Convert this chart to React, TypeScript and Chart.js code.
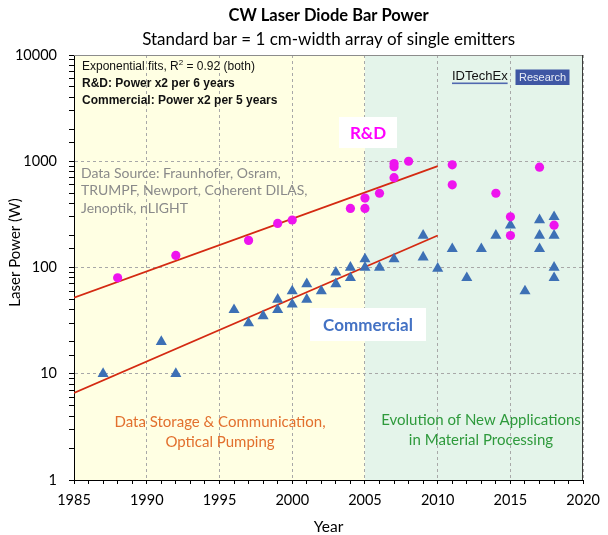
import React, { useEffect, useRef } from 'react';
import { Chart, registerables } from 'chart.js';

Chart.register(...registerables);

// ---- data ----
const rdYears = [1988, 1992, 1997, 1999, 2000, 2004, 2005, 2005, 2006, 2007, 2007, 2007, 2008, 2011, 2011, 2014, 2015, 2015, 2017, 2018];
const rdPower = [80, 130, 180, 260, 280, 360, 450, 360, 500, 700, 890, 950, 1000, 925, 600, 500, 300, 200, 880, 250];

const comYears = [1987, 1991, 1992, 1996, 1997, 1998, 1999, 1999, 2000, 2000, 2001, 2001, 2002, 2003, 2003, 2004, 2004, 2005, 2005, 2006, 2007, 2009, 2009, 2010, 2011, 2012, 2013, 2014, 2015, 2016, 2017, 2017, 2017, 2018, 2018, 2018, 2018];
const comPower = [10, 20, 10, 40, 30, 35, 50, 40, 60, 45, 70, 50, 60, 90, 70, 100, 80, 120, 100, 100, 120, 200, 125, 98, 150, 80, 150, 200, 250, 60, 280, 200, 150, 300, 200, 100, 80];

const rdFitYears = [1985, 2010];
const rdFitPower = [52, 900];
const comFitYears = [1985, 2010];
const comFitPower = [6.6, 200];

const xTickLabels = ['1985', '1990', '1995', '2000', '2005', '2010', '2015', '2020'];
const yTickLabels = ['1', '10', '100', '1000', '10000'];

const eraBounds = [1985, 2005, 2020];
const eraColors = ['#FFFFE3', '#E4F4EA'];

const titleText = 'CW Laser Diode Bar Power';
const subtitleText = 'Standard bar = 1 cm-width array of single emitters';
const yTitleText = 'Laser Power (W)';
const xTitleText = 'Year';
const fitLines = ['R&D: Power x2 per 6 years', 'Commercial: Power x2 per 5 years'];
const sourceLines = ['Data Source: Fraunhofer, Osram,', 'TRUMPF, Newport, Coherent DILAS,', 'Jenoptik, nLIGHT'];
const eraLeftLines = ['Data Storage & Communication,', 'Optical Pumping'];
const eraRightLines = ['Evolution of New Applications', 'in Material Processing'];

const CAL = 'Lato, "Open Sans", sans-serif';
const ARIAL = '"Liberation Sans", Arial, sans-serif';
const GRID = '#A8A8A8';

const isMajorY = (v: number) => yTickLabels.some((l) => Math.abs(Number(l) - v) < 1e-6 * Number(l));
const isMajorX = (v: number) => xTickLabels.includes(String(Math.round(v))) && Math.abs(v - Math.round(v)) < 1e-6;

const eraPlugin = {
  id: 'eras',
  beforeDraw(chart: any) {
    const { ctx, chartArea, scales } = chart;
    const x = scales.x;
    ctx.save();
    for (let i = 0; i < eraColors.length; i++) {
      const a = x.getPixelForValue(eraBounds[i]);
      const b = x.getPixelForValue(eraBounds[i + 1]);
      ctx.fillStyle = eraColors[i];
      ctx.fillRect(a, chartArea.top, b - a, chartArea.bottom - chartArea.top);
    }
    ctx.restore();
  },
};

const overlayPlugin = {
  id: 'overlay',
  afterDraw(chart: any) {
    const { ctx, chartArea: ca } = chart;
    ctx.save();
    // top and right frame
    ctx.lineWidth = 1;
    ctx.strokeStyle = '#8C8C8C';
    ctx.beginPath();
    ctx.moveTo(ca.left, Math.round(ca.top) + 0.5);
    ctx.lineTo(ca.right, Math.round(ca.top) + 0.5);
    ctx.stroke();
    ctx.strokeStyle = '#3A3A3A';
    ctx.beginPath();
    ctx.moveTo(Math.round(ca.right) - 0.5, ca.top);
    ctx.lineTo(Math.round(ca.right) - 0.5, ca.bottom);
    ctx.stroke();

    const cx = (ca.left + ca.right) / 2;
    ctx.textBaseline = 'middle';
    ctx.textAlign = 'center';
    ctx.fillStyle = '#000';
    ctx.font = `bold 16.5px ${CAL}`;
    ctx.fillText(titleText, cx, 16);
    ctx.font = `17px ${CAL}`;
    ctx.fillText(subtitleText, cx, 40);

    // y title
    ctx.save();
    ctx.translate(15, (ca.top + ca.bottom) / 2 - 15);
    ctx.rotate(-Math.PI / 2);
    ctx.font = `15px ${CAL}`;
    ctx.fillText(yTitleText, 0, 0);
    ctx.restore();

    // fits text
    ctx.textAlign = 'left';
    ctx.fillStyle = '#111';
    const tx = ca.left + 8;
    const ty = ca.top + 12;
    ctx.font = `12px ${ARIAL}`;
    const p1 = 'Exponential fits, R';
    ctx.fillText(p1, tx, ty);
    const w = ctx.measureText(p1).width;
    ctx.font = `8px ${ARIAL}`;
    ctx.fillText('2', tx + w, ty - 4);
    const w2 = ctx.measureText('2').width;
    ctx.font = `12px ${ARIAL}`;
    ctx.fillText(' = 0.92 (both)', tx + w + w2, ty);
    ctx.font = `bold 12px ${ARIAL}`;
    fitLines.forEach((l, i) => ctx.fillText(l, tx, ty + 17 * (i + 1)));

    // data source
    ctx.fillStyle = '#8A8A8A';
    ctx.font = `14px ${CAL}`;
    sourceLines.forEach((l, i) => ctx.fillText(l, ca.left + 7, 173 + 17.5 * i));

    // logo
    ctx.fillStyle = '#111';
    ctx.font = `13px ${ARIAL}`;
    ctx.fillText('IDTechEx', 452, 76);
    const lw = ctx.measureText('IDTechEx').width;
    ctx.fillStyle = '#5068B0';
    ctx.fillRect(452, 82.5, lw, 1.6);
    ctx.fillStyle = '#3F57A4';
    ctx.fillRect(515.5, 69.5, 54, 15.5);
    ctx.fillStyle = '#E8ECF6';
    ctx.textAlign = 'center';
    ctx.font = `11px ${ARIAL}`;
    ctx.fillText('Research', 542.5, 77.5);

    // R&D label box
    ctx.fillStyle = '#FFFFFF';
    ctx.fillRect(339, 117, 58, 31);
    ctx.fillStyle = '#FF00FF';
    ctx.font = `bold 17px ${CAL}`;
    ctx.fillText('R&D', 368, 133.5);

    // Commercial label box
    ctx.fillStyle = '#FFFFFF';
    ctx.fillRect(310, 308, 116, 33);
    ctx.fillStyle = '#4472C4';
    ctx.font = `bold 17px ${CAL}`;
    ctx.fillText('Commercial', 368, 325.5);

    // era texts
    ctx.font = `15px ${CAL}`;
    ctx.fillStyle = '#E2702E';
    eraLeftLines.forEach((l, i) => ctx.fillText(l, 220, 422 + 20.5 * i));
    ctx.fillStyle = '#2E9A3C';
    eraRightLines.forEach((l, i) => ctx.fillText(l, 481, 420.5 + 20 * i));

    ctx.restore();
  },
};

export default function App() {
  const ref = useRef<HTMLCanvasElement | null>(null);

  useEffect(() => {
    document.body.style.margin = '0';
    const canvas = ref.current;
    if (!canvas) return;
    const chart = new Chart(canvas, {
      type: 'scatter',
      data: {
        datasets: [
          {
            label: 'R&D',
            data: rdYears.map((yr, i) => ({ x: yr, y: rdPower[i] })),
            pointStyle: 'circle',
            pointRadius: 4.6,
            backgroundColor: '#EE14EE',
            borderColor: '#EE14EE',
            borderWidth: 0,
            order: 1,
          },
          {
            label: 'Commercial',
            data: comYears.map((yr, i) => ({ x: yr, y: comPower[i] })),
            pointStyle: 'triangle',
            pointRadius: 6.4,
            backgroundColor: '#3D70B5',
            borderColor: '#3D70B5',
            borderWidth: 0,
            order: 1,
          },
          {
            type: 'line',
            label: 'R&D fit',
            data: rdFitYears.map((yr, i) => ({ x: yr, y: rdFitPower[i] })),
            borderColor: '#D42A12',
            borderWidth: 1.8,
            pointRadius: 0,
            showLine: true,
            fill: false,
            order: 2,
          },
          {
            type: 'line',
            label: 'Commercial fit',
            data: comFitYears.map((yr, i) => ({ x: yr, y: comFitPower[i] })),
            borderColor: '#D42A12',
            borderWidth: 1.8,
            pointRadius: 0,
            showLine: true,
            fill: false,
            order: 2,
          },
        ] as any,
      },
      options: {
        responsive: false,
        animation: false,
        layout: { padding: { top: 55, right: 19, left: 0, bottom: 0 } },
        plugins: {
          legend: { display: false },
          tooltip: { enabled: false },
          title: { display: false },
        },
        scales: {
          x: {
            type: 'linear',
            min: 1985,
            max: 2020,
            afterFit: (s: any) => {
              s.height = 55;
            },
            ticks: {
              stepSize: 1,
              autoSkip: false,
              maxRotation: 0,
              padding: 8,
              color: '#000',
              font: { family: CAL, size: 14.5 },
              callback: (v: any) => (isMajorX(Number(v)) ? String(Math.round(Number(v))) : ''),
            },
            grid: {
              color: (c: any) => (c.tick && isMajorX(c.tick.value) ? GRID : 'rgba(0,0,0,0)'),
              tickColor: '#000',
              tickLength: 4,
              lineWidth: 1,
            },
            border: { color: '#000', width: 1, dash: [3, 3] },
            title: {
              display: true,
              text: xTitleText,
              color: '#000',
              font: { family: CAL, size: 15.5 },
              padding: { top: 0, bottom: -1 },
            },
          },
          y: {
            type: 'logarithmic',
            min: 1,
            max: 10000,
            afterFit: (s: any) => {
              s.width = 74;
            },
            ticks: {
              autoSkip: false,
              padding: 12,
              color: '#000',
              font: { family: CAL, size: 14.5 },
              callback: (v: any) => {
                const n = Number(v);
                const l = yTickLabels.find((t) => Math.abs(Number(t) - n) < 1e-6 * Number(t));
                return l ?? '';
              },
            },
            grid: {
              color: (c: any) => (c.tick && isMajorY(c.tick.value) ? GRID : 'rgba(0,0,0,0)'),
              tickColor: '#000',
              tickLength: 5,
              lineWidth: 1,
            },
            border: { color: '#000', width: 1, dash: [3, 3] },
          },
        },
      },
      plugins: [eraPlugin, overlayPlugin],
    } as any);
    return () => chart.destroy();
  }, []);

  return <canvas ref={ref} width={608} height={535} style={{ display: 'block' }} />;
}
